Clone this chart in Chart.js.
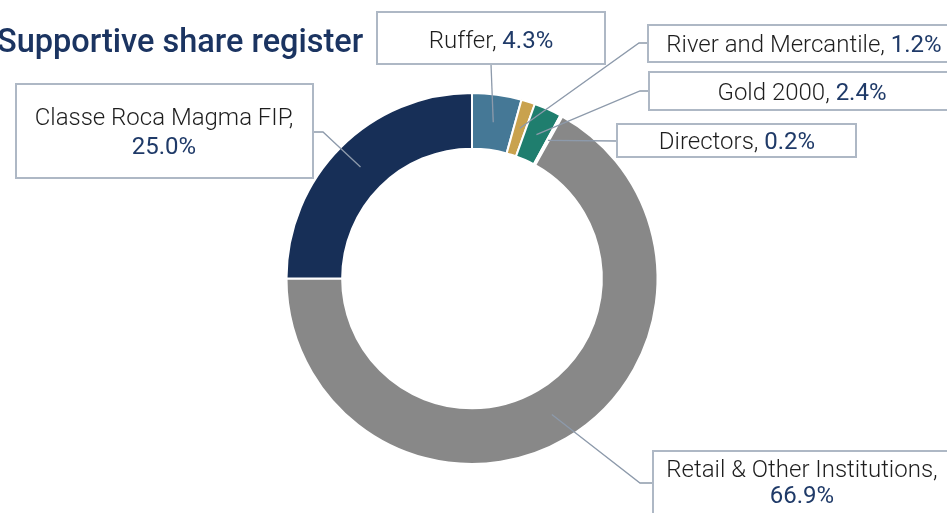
<!DOCTYPE html>
<html>
<head>
<meta charset="utf-8">
<script src="https://cdn.jsdelivr.net/npm/chart.js@4.4.1/dist/chart.umd.min.js"></script>
<style>
html, body { margin: 0; padding: 0; background: #fff; overflow: hidden; }
#wrap { position: relative; width: 947px; height: 513px; }
</style>
</head>
<body>
<div id="wrap"><canvas id="Chart1"></canvas></div>
<script>
// share register data
const holders = ["Ruffer", "River and Mercantile", "Gold 2000", "Directors", "Retail & Other Institutions", "Classe Roca Magma FIP"];
const shares = [4.3, 1.2, 2.4, 0.2, 66.9, 25.0];
const colours = ["#457896", "#C9A24E", "#1F7E6E", "#FFFFFF", "#888888", "#172F57"];

const chartTitle = "Supportive share register";

// callout boxes: box rect, where the leader leaves the box, optional elbow, text centre / baselines
const callouts = [
    { box: [377, 12, 228, 52], from: [491, 64], elbow: null, cx: 491, rows: [48] },
    { box: [648, 25, 310, 37], from: [648, 43], elbow: [639, 43], cx: 804, rows: [52] },
    { box: [649, 72, 310, 38], from: [649, 91], elbow: [640, 91], cx: 802, rows: [100] },
    { box: [617, 124, 239, 33], from: [617, 141], elbow: null, cx: 737, rows: [149] },
    { box: [653, 451, 310, 80], from: [653, 483], elbow: [640, 483], cx: 802, rows: [477, 503] },
    { box: [16, 84, 297, 94], from: [313, 132], elbow: [323, 132], cx: 164, rows: [125, 154] }
];

const nameFont = "300 24px Roboto";
const pctFont = "400 24px Roboto";

const calloutPlugin = {
    id: 'callouts',
    afterDraw(chart) {
        const ctx = chart.ctx;
        const arcs = chart.getDatasetMeta(0).data;
        ctx.save();

        // title
        ctx.font = "500 32.5px Roboto";
        ctx.fillStyle = "#1B3461";
        ctx.textAlign = "left";
        ctx.textBaseline = "alphabetic";
        ctx.fillText(chartTitle, -3, 52);

        // leader lines
        ctx.strokeStyle = "#8D9AAB";
        ctx.lineWidth = 1.3;
        callouts.forEach(function(c, i) {
            const p = arcs[i].getProps(['x', 'y', 'startAngle', 'endAngle', 'innerRadius', 'outerRadius'], true);
            const a = (p.startAngle + p.endAngle) / 2;
            const r = (p.innerRadius + p.outerRadius) / 2;
            const ax = p.x + Math.cos(a) * r;
            const ay = p.y + Math.sin(a) * r;
            ctx.beginPath();
            ctx.moveTo(c.from[0], c.from[1]);
            if (c.elbow) ctx.lineTo(c.elbow[0], c.elbow[1]);
            ctx.lineTo(ax, ay);
            ctx.stroke();
        });

        // boxes and text
        callouts.forEach(function(c, i) {
            const b = c.box;
            ctx.fillStyle = "#fff";
            ctx.fillRect(b[0], b[1], b[2], b[3]);
            ctx.strokeStyle = "#AEB8C5";
            ctx.lineWidth = 2;
            ctx.strokeRect(b[0], b[1], b[2], b[3]);

            const name = holders[i] + ", ";
            const pct = shares[i].toFixed(1) + "%";
            ctx.textAlign = "left";
            if (c.rows.length === 1) {
                ctx.font = nameFont;
                const w1 = ctx.measureText(name).width;
                ctx.font = pctFont;
                const w2 = ctx.measureText(pct).width;
                const x0 = c.cx - (w1 + w2) / 2;
                ctx.font = nameFont;
                ctx.fillStyle = "#1E1E1E";
                ctx.fillText(name, x0, c.rows[0]);
                ctx.font = pctFont;
                ctx.fillStyle = "#1F3A68";
                ctx.fillText(pct, x0 + w1, c.rows[0]);
            } else {
                ctx.textAlign = "center";
                ctx.font = nameFont;
                ctx.fillStyle = "#1E1E1E";
                ctx.fillText(holders[i] + ",", c.cx, c.rows[0]);
                ctx.font = pctFont;
                ctx.fillStyle = "#1F3A68";
                ctx.fillText(pct, c.cx, c.rows[1]);
            }
        });
        ctx.restore();
    }
};

new Chart(document.getElementById('Chart1'), {
    type: 'doughnut',
    data: {
        labels: holders,
        datasets: [{
            data: shares,
            backgroundColor: colours,
            borderColor: "#FFFFFF",
            borderWidth: 2
        }]
    },
    options: {
        responsive: true,
        maintainAspectRatio: false,
        animation: false,
        cutout: '70%',
        layout: {
            padding: { top: 92, bottom: 48, left: 0, right: 3 }
        },
        plugins: {
            legend: { display: false },
            tooltip: { enabled: false }
        }
    },
    plugins: [calloutPlugin]
});
</script>
</body>
</html>
